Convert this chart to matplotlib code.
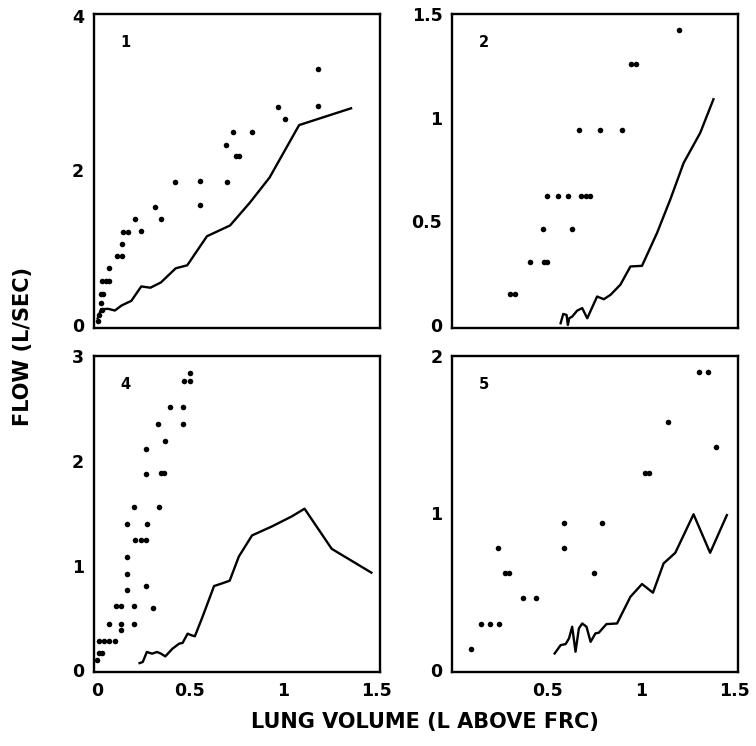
import matplotlib.pyplot as plt

plt.rcParams["font.family"] = ["DejaVu Sans"]
plt.rcParams["font.weight"] = "bold"

# ---- panel 1 ----
p1_dot_x = [1.19, 1.19, 0.975, 1.01, 0.73, 0.836, 0.694, 0.746, 0.765,
            0.557, 0.419, 0.70, 0.557, 0.313, 0.345, 0.207, 0.239,
            0.141, 0.170, 0.136, 0.110, 0.138, 0.067, 0.030, 0.048, 0.067,
            0.021, 0.032, 0.023, 0.027, 0.012, 0.005]
p1_dot_y = [3.31, 2.83, 2.82, 2.66, 2.49, 2.49, 2.33, 2.18, 2.18,
            1.86, 1.85, 1.85, 1.55, 1.52, 1.37, 1.37, 1.21,
            1.20, 1.20, 1.05, 0.89, 0.89, 0.73, 0.57, 0.57, 0.57,
            0.40, 0.40, 0.28, 0.195, 0.13, 0.056]
p1_line_x = [0.005, 0.023, 0.062, 0.097, 0.133, 0.186, 0.239, 0.288, 0.345,
             0.424, 0.486, 0.592, 0.716, 0.822, 0.928, 1.087, 1.366]
p1_line_y = [0.087, 0.203, 0.208, 0.186, 0.251, 0.312, 0.498, 0.481, 0.550,
             0.732, 0.771, 1.147, 1.286, 1.580, 1.905, 2.584, 2.801]

# ---- panel 2 ----
p2_dot_x = [1.205, 0.946, 0.975, 0.666, 0.782, 0.898, 0.493, 0.554, 0.609,
            0.679, 0.702, 0.725, 0.473, 0.627, 0.404, 0.479, 0.496,
            0.295, 0.323]
p2_dot_y = [1.424, 1.261, 1.261, 0.940, 0.940, 0.940, 0.621, 0.621, 0.621,
            0.624, 0.624, 0.624, 0.461, 0.461, 0.303, 0.303, 0.303,
            0.147, 0.147]
p2_line_x = [0.568, 0.582, 0.600, 0.607, 0.614, 0.630, 0.657, 0.684, 0.711,
             0.764, 0.800, 0.836, 0.889, 0.943, 1.005, 1.086, 1.157, 1.229,
             1.318, 1.389]
p2_line_y = [0.008, 0.053, 0.048, 0.0, 0.032, 0.040, 0.069, 0.081, 0.032,
             0.137, 0.124, 0.145, 0.194, 0.282, 0.285, 0.444, 0.605, 0.782,
             0.927, 1.089]

# ---- panel 4 ----
p4_dot_x = [0.50, 0.470, 0.502, 0.393, 0.464, 0.331, 0.464, 0.367, 0.262,
            0.262, 0.345, 0.363, 0.198, 0.335, 0.164, 0.269, 0.203, 0.235,
            0.267, 0.164, 0.164, 0.164, 0.265, 0.103, 0.132, 0.201, 0.30,
            0.064, 0.132, 0.132, 0.201, 0.011, 0.039, 0.068, 0.096,
            0.012, 0.028, 0.0]
p4_dot_y = [2.84, 2.76, 2.76, 2.51, 2.51, 2.35, 2.35, 2.19, 2.11,
            1.87, 1.88, 1.88, 1.56, 1.56, 1.40, 1.40, 1.24, 1.24,
            1.24, 1.08, 0.92, 0.77, 0.81, 0.61, 0.61, 0.61, 0.60,
            0.44, 0.44, 0.39, 0.44, 0.28, 0.28, 0.28, 0.28,
            0.17, 0.17, 0.10]
p4_line_x = [0.230, 0.247, 0.269, 0.297, 0.324, 0.345, 0.368, 0.407, 0.443,
             0.461, 0.488, 0.509, 0.527, 0.568, 0.630, 0.674, 0.714, 0.763,
             0.834, 0.941, 1.048, 1.116, 1.262, 1.475]
p4_line_y = [0.070, 0.080, 0.176, 0.160, 0.176, 0.160, 0.134, 0.208, 0.256,
             0.262, 0.351, 0.335, 0.326, 0.511, 0.805, 0.831, 0.856, 1.086,
             1.288, 1.374, 1.470, 1.543, 1.160, 0.933]

# ---- panel 5 ----
p5_dot_x = [0.086, 0.139, 0.189, 0.239, 0.234, 0.268, 0.291, 0.366, 0.436,
            0.588, 0.588, 0.791, 0.748, 1.023, 1.041, 1.143, 1.309, 1.359,
            1.405]
p5_dot_y = [0.134, 0.293, 0.293, 0.293, 0.775, 0.62, 0.62, 0.461, 0.461,
            0.938, 0.775, 0.938, 0.618, 1.257, 1.257, 1.577, 1.896, 1.896,
            1.418]
p5_line_x = [0.536, 0.568, 0.595, 0.613, 0.630, 0.648, 0.666, 0.684, 0.707,
             0.729, 0.755, 0.773, 0.814, 0.871, 0.943, 1.005, 1.064, 1.121,
             1.184, 1.282, 1.371, 1.461]
p5_line_y = [0.106, 0.159, 0.166, 0.202, 0.276, 0.117, 0.265, 0.297, 0.276,
             0.180, 0.234, 0.238, 0.293, 0.297, 0.467, 0.548, 0.493, 0.679,
             0.747, 0.992, 0.747, 0.987]

x_ticks = [0, 0.5, 1, 1.5]
x_ticklabels = ["0", "0.5", "1", "1.5"]

panels = [
    # label, rect, dots, line, ylim, yticks, yticklabels, xticklabels
    ("1", [0.1243, 0.5603, 0.378, 0.4209], (p1_dot_x, p1_dot_y), (p1_line_x, p1_line_y),
     (-0.04, 4.02), [0, 2, 4], ["0", "2", "4"], None),
    ("2", [0.598, 0.5603, 0.378, 0.4209], (p2_dot_x, p2_dot_y), (p2_line_x, p2_line_y),
     (-0.015, 1.5), [0, 0.5, 1, 1.5], ["0", "0.5", "1", "1.5"], None),
    ("4", [0.1243, 0.0992, 0.378, 0.4236], (p4_dot_x, p4_dot_y), (p4_line_x, p4_line_y),
     (-0.015, 3.0), [0, 1, 2, 3], ["0", "1", "2", "3"], x_ticklabels),
    ("5", [0.598, 0.0992, 0.378, 0.4236], (p5_dot_x, p5_dot_y), (p5_line_x, p5_line_y),
     (-0.012, 2.0), [0, 1, 2], ["0", "1", "2"], ["", "0.5", "1", "1.5"]),
]

fig = plt.figure(figsize=(7.56, 7.46), dpi=100)

for label, rect, dots, line, ylim, yt, ytl, xtl in panels:
    ax = fig.add_axes(rect)
    ax.plot(line[0], line[1], color="black", lw=1.7, clip_on=True)
    ax.plot(dots[0], dots[1], "o", color="black", ms=4.0, mew=0)
    ax.set_xlim(-0.015, 1.52)
    ax.set_ylim(*ylim)
    ax.set_yticks(yt)
    ax.set_yticklabels(ytl)
    ax.set_xticks(x_ticks)
    if xtl is None:
        ax.set_xticklabels([])
    else:
        ax.set_xticklabels(xtl)
    ax.tick_params(length=0, labelsize=12.5, pad=7)
    for s in ax.spines.values():
        s.set_linewidth(1.7)
    ax.text(0.11, 0.91, label, transform=ax.transAxes, fontsize=10.5,
            fontweight="bold", ha="center", va="center")

fig.text(0.03, 0.536, "FLOW (L/SEC)", rotation=90, ha="center", va="center",
         fontsize=15, fontweight="bold")
fig.text(0.562, 0.032, "LUNG VOLUME (L ABOVE FRC)", ha="center", va="center",
         fontsize=15, fontweight="bold")

fig.savefig("out.png", dpi=100)
